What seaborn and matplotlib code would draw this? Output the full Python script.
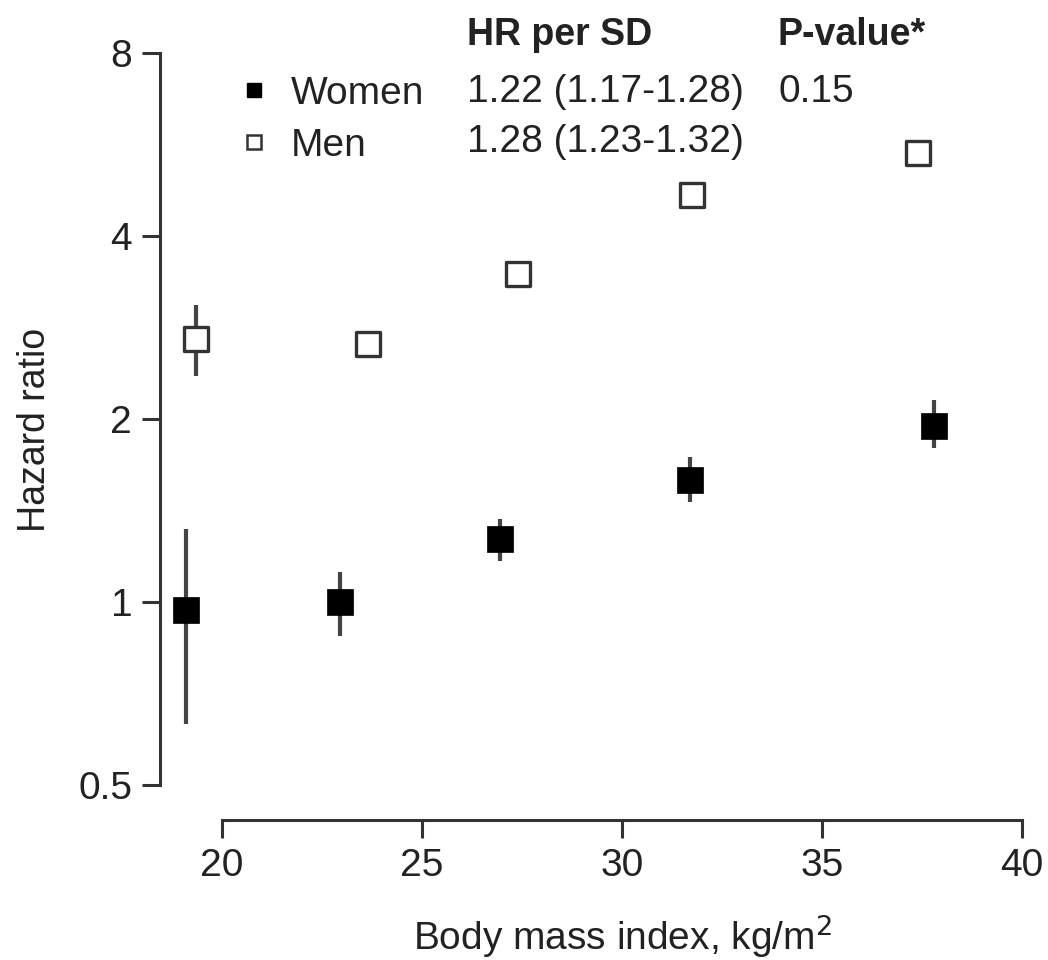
import numpy as np
import pandas as pd
import matplotlib
matplotlib.use("Agg")
import matplotlib.pyplot as plt
import seaborn as sns
from matplotlib.lines import Line2D

# values
women_bmi = [19.1, 22.95, 26.95, 31.7, 37.8]
women_hr = [0.97, 1.0, 1.27, 1.59, 1.95]
women_lo = [0.63, 0.88, 1.17, 1.46, 1.79]
women_hi = [1.32, 1.12, 1.37, 1.73, 2.15]

men_bmi = [19.35, 23.65, 27.4, 31.75, 37.4]
men_hr = [2.71, 2.66, 3.46, 4.67, 5.48]
men_lo = [2.35, 2.57, 3.37, 4.55, 5.33]
men_hi = [3.08, 2.75, 3.55, 4.80, 5.63]

ytick_vals = [0.5, 1, 2, 4, 8]
ytick_labels = ["0.5", "1", "2", "4", "8"]
xtick_vals = [20, 25, 30, 35, 40]

women = pd.DataFrame({"bmi": women_bmi, "hr": women_hr, "lo": women_lo, "hi": women_hi})
men = pd.DataFrame({"bmi": men_bmi, "hr": men_hr, "lo": men_lo, "hi": men_hi})

sns.set_style("ticks")
plt.rcParams["font.family"] = ["Liberation Sans", "DejaVu Sans"]

fig = plt.figure(figsize=(10.48, 9.6), dpi=100)
ax = fig.add_axes([160/1048, 1-820/960, 870/1048, 780/960])

dark = "#333333"
tc = "#222222"
ax.vlines(women["bmi"], women["lo"], women["hi"], color="#444444", lw=3, zorder=2)
ax.vlines(men["bmi"], men["lo"], men["hi"], color="#444444", lw=3, zorder=2)

sns.scatterplot(data=women, x="bmi", y="hr", marker="s", s=340, color="black",
                edgecolor="black", linewidth=0.5, ax=ax, zorder=3)
sns.scatterplot(data=men, x="bmi", y="hr", marker="s", s=300, facecolor="white",
                edgecolor=dark, linewidth=2.4, ax=ax, zorder=3)

ax.set_yscale("log", base=2)
ax.set_ylim(0.438, 8.4)
ax.set_xlim(18.45, 40.2)
ax.set_yticks(ytick_vals)
ax.set_yticklabels(ytick_labels)
ax.minorticks_off()
ax.set_xticks(xtick_vals)
ax.set_xticklabels([str(v) for v in xtick_vals])

for side in ["top", "right"]:
    ax.spines[side].set_visible(False)
ax.spines["left"].set_bounds(0.5, 8)
ax.spines["bottom"].set_bounds(20, 40)
for side in ["left", "bottom"]:
    ax.spines[side].set_linewidth(2.2)
    ax.spines[side].set_color(dark)
ax.tick_params(axis="both", length=13, width=2.2, color=dark, labelsize=28,
               labelcolor=tc, pad=7)

ax.set_xlabel("Body mass index, kg/m$^2$", fontsize=28, color=tc)
ax.xaxis.set_label_coords((622-160)/870, -(912-820)/780)
ax.set_ylabel("Hazard ratio", fontsize=27, color=tc, labelpad=18)

# legend with estimate columns
handles = [
    Line2D([], [], marker="s", ls="none", ms=10, mfc="black", mec="black"),
    Line2D([], [], marker="s", ls="none", ms=10, mfc="white", mec=dark, mew=1.8),
]
ax.legend(handles, ["Women", "Men"], loc="upper left",
          bbox_to_anchor=((238-160)/870, 1-(76-40)/780),
          frameon=False, fontsize=28, handlelength=0.8, handletextpad=0.55,
          labelspacing=0.4, labelcolor=tc, borderaxespad=0, borderpad=0)

fig.text(467/1048, 1-35/960, "HR per SD", fontsize=27, fontweight="bold", color=tc, va="center")
fig.text(778/1048, 1-35/960, "P-value*", fontsize=27, fontweight="bold", color=tc, va="center")
fig.text(467/1048, 1-92/960, "1.22 (1.17-1.28)", fontsize=28, color=tc, va="center")
fig.text(467/1048, 1-142/960, "1.28 (1.23-1.32)", fontsize=28, color=tc, va="center")
fig.text(778/1048, 1-92/960, "0.15", fontsize=28, color=tc, va="center")

fig.savefig("out.png", dpi=100)
